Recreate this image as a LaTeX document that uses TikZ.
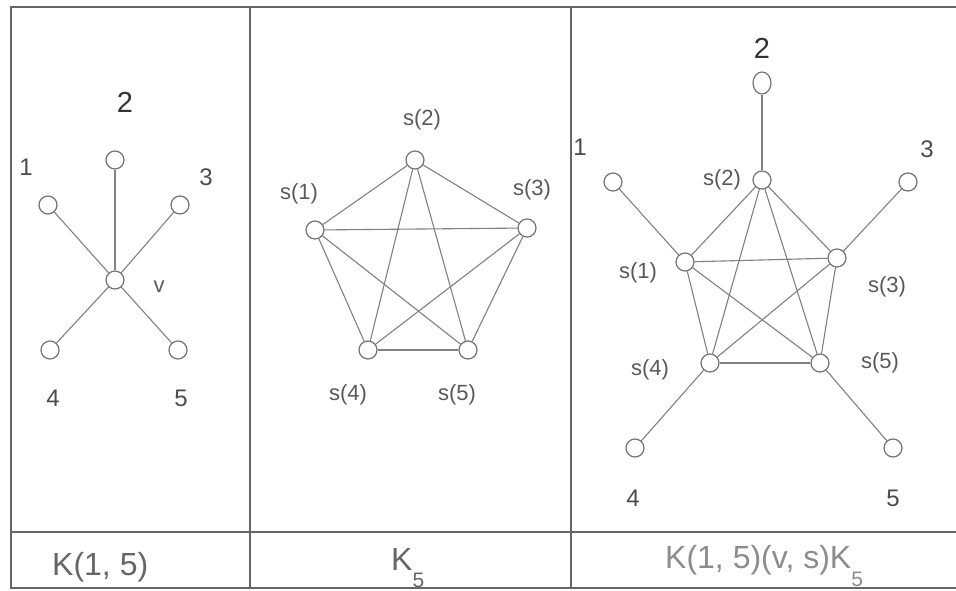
\documentclass[tikz,border=0pt]{standalone}
\usepackage{fontspec}
\setmainfont{Liberation Sans}
\usetikzlibrary{shapes.geometric}
\tikzset{
  frameline/.style={draw=black!60, line width=1.5pt},
  edge/.style={draw=black!50, line width=1.1pt},
  vtx/.style={circle, draw=black!55, line width=1.2pt, fill=white, minimum size=18pt, inner sep=0pt},
  lab/.style={text=black!70, inner sep=0pt, font=\fontsize{24}{24}\selectfont},
  biglab/.style={text=black!80, inner sep=0pt, font=\fontsize{29}{29}\selectfont},
  slab/.style={text=black!65, inner sep=0pt, font=\fontsize{22}{22}\selectfont},
  caption/.style={text=black!60, inner sep=0pt, anchor=base west, font=\fontsize{32}{32}\selectfont},
}
\begin{document}
\begin{tikzpicture}[x=1pt,y=-1pt]
\useasboundingbox (0,0) rectangle (956,591);
% frame
\coordinate (tl) at (11,7);
\coordinate (tr) at (956,7);
\coordinate (bl) at (11,588);
\coordinate (br) at (956,588);
\coordinate (ml) at (11,532);
\coordinate (mr) at (956,532);
\coordinate (d1t) at (250,7);
\coordinate (d1b) at (250,588);
\coordinate (d2t) at (571,7);
\coordinate (d2b) at (571,588);
\draw[frameline] (tr) -- (tl) -- (bl) -- (br);
\draw[frameline] (ml) -- (mr);
\draw[frameline] (d1t) -- (d1b);
\draw[frameline] (d2t) -- (d2b);

% ---- left panel: K(1,5)
\node[vtx] (v) at (115,280) {};
\node[vtx] (a1) at (48,205) {};
\node[vtx] (a2) at (115,160) {};
\node[vtx] (a3) at (180,205) {};
\node[vtx] (a4) at (50,350) {};
\node[vtx] (a5) at (178,350) {};
\foreach \n in {a1,a2,a3,a4,a5} \draw[edge] (v) -- (\n);
\node[biglab] (la2) at (125,102) {2};
\node[lab] (la1) at (26,167) {1};
\node[lab] (la3) at (206,177) {3};
\node[slab] (lv) at (159,287) {v};
\node[lab] (la4) at (53,398) {4};
\node[lab] (la5) at (181,398) {5};

% ---- middle panel: K5
\node[vtx] (b1) at (315,230) {};
\node[vtx] (b2) at (415,160) {};
\node[vtx] (b3) at (527,228) {};
\node[vtx] (b4) at (368,350) {};
\node[vtx] (b5) at (468,350) {};
\draw[edge] (b1) -- (b2); \draw[edge] (b1) -- (b3); \draw[edge] (b1) -- (b4); \draw[edge] (b1) -- (b5);
\draw[edge] (b2) -- (b3); \draw[edge] (b2) -- (b4); \draw[edge] (b2) -- (b5);
\draw[edge] (b3) -- (b4); \draw[edge] (b3) -- (b5);
\draw[edge] (b4) -- (b5);
\node[slab] (lb2) at (422,120) {s(2)};
\node[slab] (lb1) at (299,194) {s(1)};
\node[slab] (lb3) at (532,190) {s(3)};
\node[slab] (lb4) at (348,395) {s(4)};
\node[slab] (lb5) at (457,395) {s(5)};

% ---- right panel: K(1,5)(v,s)K5
\node[vtx] (c1) at (685,262) {};
\node[vtx] (c2) at (762,180) {};
\node[vtx] (c3) at (837,258) {};
\node[vtx] (c4) at (710,363) {};
\node[vtx] (c5) at (820,363) {};
\node[vtx] (o1) at (613,182) {};
\node[vtx, ellipse, minimum height=22pt, minimum width=18pt] (o2) at (762,83) {};
\node[vtx] (o3) at (908,182) {};
\node[vtx] (o4) at (635,448) {};
\node[vtx] (o5) at (893,448) {};
\draw[edge] (c1) -- (c2); \draw[edge] (c1) -- (c3); \draw[edge] (c1) -- (c4); \draw[edge] (c1) -- (c5);
\draw[edge] (c2) -- (c3); \draw[edge] (c2) -- (c4); \draw[edge] (c2) -- (c5);
\draw[edge] (c3) -- (c4); \draw[edge] (c3) -- (c5);
\draw[edge] (c4) -- (c5);
\draw[edge] (c1) -- (o1); \draw[edge] (c2) -- (o2); \draw[edge] (c3) -- (o3);
\draw[edge] (c4) -- (o4); \draw[edge] (c5) -- (o5);
\node[biglab] (lc2o) at (762,48) {2};
\node[lab] (lc1o) at (580,147) {1};
\node[lab] (lc3o) at (927,149) {3};
\node[lab] (lc4o) at (633,498) {4};
\node[lab] (lc5o) at (893,498) {5};
\node[slab] (lc2) at (722,180) {s(2)};
\node[slab] (lc1) at (638,273) {s(1)};
\node[slab] (lc3) at (887,287) {s(3)};
\node[slab] (lc4) at (650,370) {s(4)};
\node[slab] (lc5) at (880,363) {s(5)};

% ---- captions
\node[caption] (cap1) at (52,575) {K(1, 5)};
\node[caption] (cap2) at (391,570) {K\raisebox{-17pt}{\fontsize{21}{21}\selectfont 5}};
\node[caption, text=black!45] (cap3) at (665,568) {K(1, 5)(v, s)K\raisebox{-18pt}{\fontsize{21}{21}\selectfont 5}};
\end{tikzpicture}
\end{document}
